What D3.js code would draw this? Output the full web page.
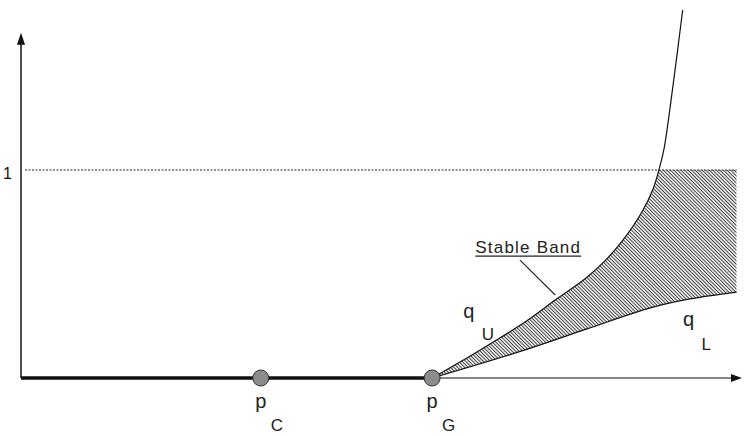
<!DOCTYPE html>
<html>
<head>
<meta charset="utf-8">
<script src="https://cdn.jsdelivr.net/npm/d3@7"></script>
<style>
  body { margin: 0; background: #fff; }
  svg { display: block; }
</style>
</head>
<body>
<div id="screen"></div>
<script>
// points on the p axis
const pointNames = ['C', 'G']
const pointX = [3.33, 5.71]

// upper bound q_U (goes past 1)
const upperX = [5.71, 6.24, 6.65, 7.00, 7.42, 7.83, 8.11, 8.36, 8.64, 8.78, 8.86, 8.93, 9.06, 9.19]
const upperY = [0, 0.106, 0.192, 0.269, 0.375, 0.476, 0.563, 0.663, 0.808, 0.910, 1.0, 1.10, 1.418, 1.769]

// lower bound q_L
const lowerX = [5.71, 7.00, 7.86, 8.74, 9.29, 9.94]
const lowerY = [0, 0.135, 0.236, 0.337, 0.380, 0.413]

const yTicks = [1]
const bandEnd = 9.94
const xMax = 10
const yMax = 1.65

const width = 744
const height = 436
const font = "'Liberation Sans', Arial, sans-serif"

const container = d3.select('#screen')
container.selectAll('*').remove()
const svg = container.append('svg')
  .attr('width', width)
  .attr('height', height)

const x = d3.scaleLinear().domain([0, xMax]).range([21, 741])
const y = d3.scaleLinear().domain([0, 1]).range([378, 170])

const defs = svg.append('defs')

// hatching for the stable band
defs.append('pattern')
  .attr('id', 'hatch')
  .attr('patternUnits', 'userSpaceOnUse')
  .attr('width', 2.5)
  .attr('height', 2.5)
  .attr('patternTransform', 'rotate(45)')
  .append('line')
  .attr('x1', 0).attr('y1', 1.25)
  .attr('x2', 2.5).attr('y2', 1.25)
  .attr('stroke', '#333')
  .attr('stroke-width', 1)

defs.append('clipPath')
  .attr('id', 'band-clip')
  .append('rect')
  .attr('x', x(0))
  .attr('y', y(1))
  .attr('width', x(bandEnd) - x(0))
  .attr('height', y(0) - y(1))

const upper = d3.zip(upperX, upperY)
const lower = d3.zip(lowerX, lowerY)

const line = d3.line()
  .x(d => x(d[0]))
  .y(d => y(d[1]))
  .curve(d3.curveCatmullRom.alpha(0.5))

// band = under q_U (cut at 1), over q_L
const bandPath = line(upper) +
  `L${x(bandEnd)},${y(d3.max(upperY))}` +
  line(lower.slice().reverse()).replace(/^M/, 'L') + 'Z'

svg.append('path')
  .attr('d', bandPath)
  .attr('clip-path', 'url(#band-clip)')
  .attr('fill', 'url(#hatch)')

// dotted level 1
svg.append('line')
  .attr('x1', x(0) + 4)
  .attr('x2', x(bandEnd))
  .attr('y1', y(1))
  .attr('y2', y(1))
  .attr('stroke', '#222')
  .attr('stroke-width', 1)
  .attr('stroke-dasharray', '2,1.5')

svg.append('path')
  .attr('d', line(upper))
  .attr('fill', 'none')
  .attr('stroke', '#111')
  .attr('stroke-width', 1.2)

svg.append('path')
  .attr('d', line(lower))
  .attr('fill', 'none')
  .attr('stroke', '#111')
  .attr('stroke-width', 1.2)

// axes
const yAxis = svg.append('g')
  .attr('transform', `translate(${x(0)},0)`)
  .call(d3.axisLeft(y).tickValues(yTicks).tickSize(0).tickPadding(9).tickFormat(d3.format('d')))
yAxis.select('.domain').remove()
yAxis.selectAll('text')
  .attr('font-family', font)
  .attr('font-size', '16px')
  .attr('fill', '#111')
  .attr('dy', '0.5em')

svg.append('line')
  .attr('x1', x(0)).attr('x2', x(0))
  .attr('y1', y(0)).attr('y2', y(yMax) + 8)
  .attr('stroke', '#111')
  .attr('stroke-width', 1.5)
svg.append('path')
  .attr('d', `M${x(0)},${y(yMax) - 2}L${x(0) - 4},${y(yMax) + 10}L${x(0) + 4},${y(yMax) + 10}Z`)
  .attr('fill', '#111')

svg.append('line')
  .attr('x1', x(0)).attr('x2', x(xMax) - 6)
  .attr('y1', y(0)).attr('y2', y(0))
  .attr('stroke', '#111')
  .attr('stroke-width', 1.2)
svg.append('path')
  .attr('d', `M${x(xMax) + 1},${y(0)}L${x(xMax) - 10},${y(0) - 4}L${x(xMax) - 10},${y(0) + 4}Z`)
  .attr('fill', '#111')

// thick segment up to p_G
svg.append('line')
  .attr('x1', x(0)).attr('x2', x(pointX[1]))
  .attr('y1', y(0)).attr('y2', y(0))
  .attr('stroke', '#111')
  .attr('stroke-width', 3.5)

svg.selectAll('circle.pt')
  .data(pointX)
  .join('circle')
  .attr('class', 'pt')
  .attr('cx', d => x(d))
  .attr('cy', y(0))
  .attr('r', 8)
  .attr('fill', '#8c8c8c')
  .attr('stroke', '#333')
  .attr('stroke-width', 1)

// labels with subscripts
function label (px, py, main, sub, subDx, subDy) {
  svg.append('text')
    .attr('x', px)
    .attr('y', py)
    .attr('text-anchor', 'middle')
    .attr('font-family', font)
    .attr('font-size', '20px')
    .attr('fill', '#222')
    .text(main)
  svg.append('text')
    .attr('x', px + subDx)
    .attr('y', py + subDy)
    .attr('font-family', font)
    .attr('font-size', '17px')
    .attr('fill', '#222')
    .text(sub)
}

pointX.forEach((d, i) => label(x(d), 408, 'p', pointNames[i], 10, 23))
label(x(6.22), y(0.288), 'q', 'U', 13, 22)
label(x(9.27), y(0.25), 'q', 'L', 13, 24)

// "Stable Band" callout
const sb = svg.append('text')
  .attr('x', x(6.31))
  .attr('y', y(0.60))
  .attr('font-family', font)
  .attr('font-size', '17px')
  .attr('letter-spacing', '1.2px')
  .attr('fill', '#222')
  .text('Stable Band')
const sbw = sb.node().getComputedTextLength()
svg.append('line')
  .attr('x1', x(6.31)).attr('x2', x(6.31) + sbw)
  .attr('y1', y(0.60) + 3).attr('y2', y(0.60) + 3)
  .attr('stroke', '#222')
  .attr('stroke-width', 1.3)
svg.append('line')
  .attr('x1', x(6.93)).attr('y1', y(0.567))
  .attr('x2', x(7.42)).attr('y2', y(0.399))
  .attr('stroke', '#222')
  .attr('stroke-width', 1.1)
</script>
</body>
</html>
